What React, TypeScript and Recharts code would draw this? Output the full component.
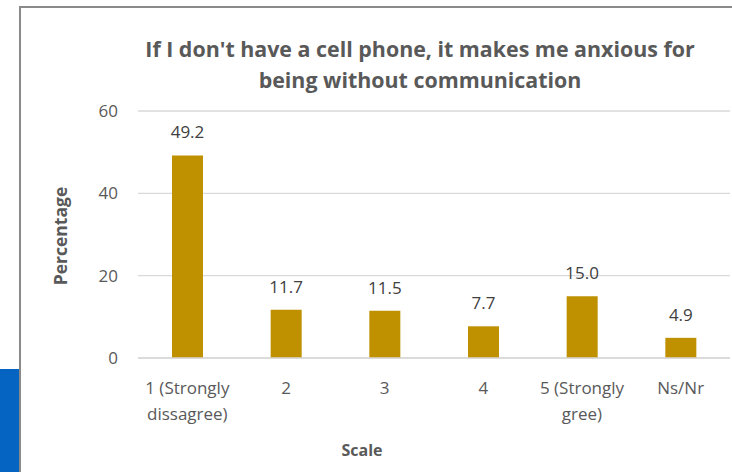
import React from 'react';
import { BarChart, Bar, XAxis, YAxis, CartesianGrid, LabelList } from 'recharts';

const categories = ['1 (Strongly dissagree)', '2', '3', '4', '5 (Strongly gree)', 'Ns/Nr'];
const tickLines: string[][] = [['1 (Strongly', 'dissagree)'], ['2'], ['3'], ['4'], ['5 (Strongly', 'gree)'], ['Ns/Nr']];
const percentages = [49.2, 11.7, 11.5, 7.7, 15.0, 4.9];
const yTicks = [0, 20, 40, 60];
const titleLines = ["If I don't have a cell phone, it makes me anxious for", 'being without communication'];

const data = categories.map((name, i) => ({ name, value: percentages[i], idx: i }));

const FONT = '"Open Sans", sans-serif';
const GREY = '#595959';

const CategoryTick = (props: any) => {
  const { x, y, index } = props;
  const lines = tickLines[index] || [props.payload.value];
  return (
    <text x={x} y={y} textAnchor="middle" fill={GREY} fontSize={17} fontFamily={FONT}>
      {lines.map((l, i) => (
        <tspan key={i} x={x} dy={i === 0 ? 34 : 26}>{l}</tspan>
      ))}
    </text>
  );
};

export default function App() {
  return (
    <div style={{ position: 'fixed', left: 0, top: 0, width: 732, height: 472, overflow: 'hidden', background: '#fff' }}>
      <div style={{ position: 'absolute', left: 0, top: 369, width: 19, height: 103, background: '#0563C1' }} />
      <div style={{ position: 'absolute', left: 19, top: 6, width: 720, height: 480, borderTop: '2px solid #8a8a8a', borderLeft: '2px solid #8a8a8a' }} />
      <div style={{ position: 'absolute', left: 0, top: 0 }}>
        <BarChart width={732} height={472} data={data} margin={{ top: 111, right: 2, bottom: 0, left: 78 }}>
          <CartesianGrid vertical={false} stroke="#d9d9d9" strokeWidth={1.3} />
          <XAxis
            dataKey="name"
            height={114}
            tickLine={false}
            tickSize={0}
            axisLine={{ stroke: '#d9d9d9', strokeWidth: 1.3 }}
            tick={<CategoryTick />}
            interval={0}
          />
          <YAxis
            width={60}
            domain={[0, 60]}
            ticks={yTicks}
            axisLine={false}
            tickLine={false}
            tickSize={0}
            tickMargin={20}
            tick={{ fill: GREY, fontSize: 17, fontFamily: FONT }}
          />
          <Bar dataKey="value" fill="#BF9000" barSize={31} isAnimationActive={false}>
            <LabelList
              dataKey="value"
              position="top"
              offset={17}
              formatter={(v: any) => Number(v).toFixed(1)}
              style={{ fill: '#404040', fontSize: 17, fontFamily: FONT }}
            />
          </Bar>
        </BarChart>
      </div>
      <svg width={732} height={472} style={{ position: 'absolute', left: 0, top: 0, pointerEvents: 'none' }}>
        <text x={420} textAnchor="middle" fill={GREY} fontSize={21.4} fontWeight="bold" fontFamily={FONT}>
          <tspan x={420} y={57}>{titleLines[0]}</tspan>
          <tspan x={420} y={88}>{titleLines[1]}</tspan>
        </text>
        <text
          x={0}
          y={0}
          transform="translate(67 236) rotate(-90)"
          textAnchor="middle"
          fill={GREY}
          fontSize={17.5}
          fontWeight="bold"
          fontFamily={FONT}
        >
          Percentage
        </text>
        <text x={362} y={456} textAnchor="middle" fill={GREY} fontSize={16} fontWeight="bold" fontFamily={FONT}>
          Scale
        </text>
      </svg>
    </div>
  );
}
